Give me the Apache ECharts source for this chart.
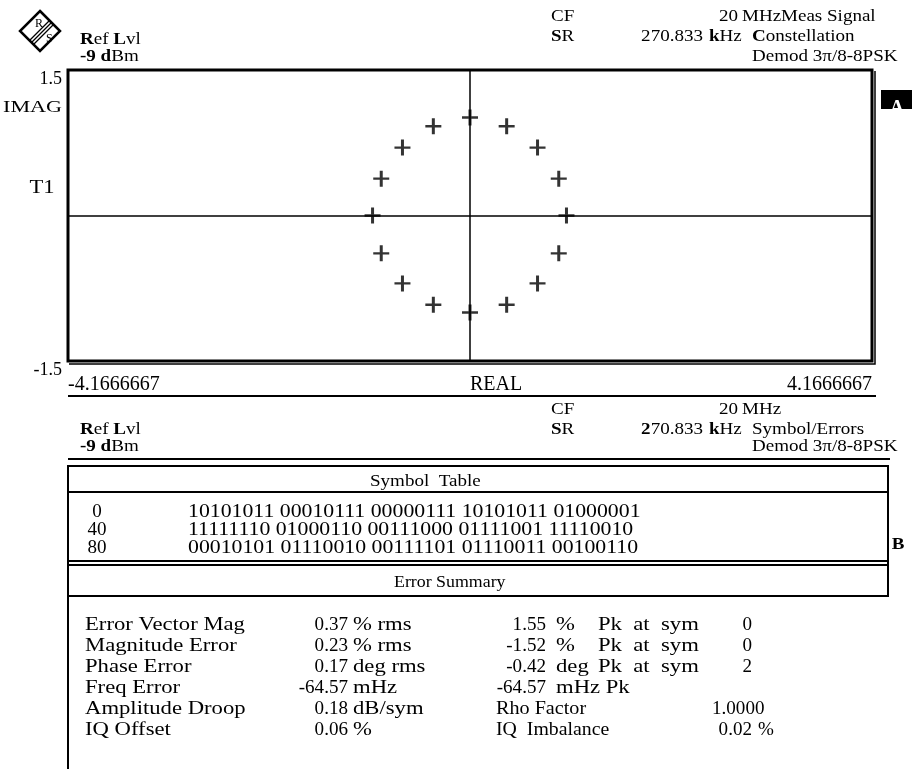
<!DOCTYPE html>
<html>
<head>
<meta charset="utf-8">
<title>Constellation 3pi/8-8PSK</title>
<script src="https://cdn.jsdelivr.net/npm/echarts@6.0.0/dist/echarts.min.js"></script>
<style>
html, body {margin: 0; padding: 0; background: #fff;}
#main {width: 912px; height: 769px;}
</style>
</head>
<body>
<div id="main"></div>
<script>
// constellation points (REAL / IMAG)
var realVals = [0.00, 0.38, 0.70, 0.92, 1.00, 0.92, 0.70, 0.38, 0.00, -0.38, -0.70, -0.92, -1.01, -0.92, -0.70, -0.38];
var imagVals = [1.01, 0.92, 0.70, 0.38, 0.00, -0.39, -0.70, -0.92, -1.00, -0.92, -0.70, -0.39, 0.00, 0.38, 0.70, 0.92];

var xTickVals = [-4.1666667, 4.1666667];
var xTickLabels = ['-4.1666667', '4.1666667'];
var yTickVals = [-1.5, 1.5];
var yTickLabels = ['-1.5', '1.5'];

// symbol table
var symbolIndex = ['0', '40', '80'];
var symbolBits = [
    '10101011 00010111 00000111 10101011 01000001',
    '11111110 01000110 00111000 01111001 11110010',
    '00010101 01110010 00111101 01110011 00100110'
];

// error summary
var errLabels = ['Error Vector Mag', 'Magnitude Error', 'Phase Error', 'Freq Error', 'Amplitude Droop', 'IQ Offset'];
var errVal1 = ['0.37', '0.23', '0.17', '-64.57', '0.18', '0.06'];
var errUnit1 = ['% rms', '% rms', 'deg rms', 'mHz', 'dB/sym', '%'];
var errVal2 = ['1.55', '-1.52', '-0.42', '-64.57'];
var errUnit2 = ['%', '%', 'deg', 'mHz Pk'];
var errPkSym = ['0', '0', '2'];

var FONT = 'Liberation Serif';
var SX = 1.12;
var rich = {
    b: {fontFamily: FONT, fontSize: 17, fontWeight: 'bold', fill: '#000'}
};

function t(x, y, s, o) {
    o = o || {};
    return {
        type: 'text', x: x, y: y, scaleX: o.sx || SX, silent: true,
        style: {
            text: s, fontFamily: FONT, fontSize: o.size || 17,
            fontWeight: o.bold ? 'bold' : 'normal', fill: o.fill || '#000',
            align: o.align || 'left', verticalAlign: 'middle', rich: rich
        }
    };
}
function ln(x1, y1, x2, y2, w) {
    return {type: 'line', silent: true, shape: {x1: x1, y1: y1, x2: x2, y2: y2}, style: {stroke: '#000', lineWidth: w || 2}};
}
// wide letters / plain digits as on the instrument screen
var W = {size: 18, sx: 1.26};
var N = {size: 18, sx: 1.06};
function opt(base, extra) {
    var o = {};
    for (var k in base) o[k] = base[k];
    for (var k2 in extra) o[k2] = extra[k2];
    return o;
}

var plus = 'path://M6.5,0H9.5V6.8H16V9.2H9.5V16H6.5V9.2H0V6.8H6.5Z';

var g = [];
// R&S logo
g.push({type: 'polygon', shape: {points: [[40, 11], [60, 31], [40, 51], [20, 31]]}, style: {fill: '#fff', stroke: '#000', lineWidth: 2.5}});
g.push(ln(49, 21, 30, 40, 1.2), ln(51, 23, 32, 42, 1.2), ln(53, 25, 34, 44, 1.2));
g.push(t(35, 24, 'R', {size: 12, sx: 1}), t(46, 39, 'S', {size: 12, sx: 1}));

// top header
g.push(t(80, 40, '{b|R}ef {b|L}vl'), t(80, 57, '{b|-9} {b|d}Bm'));
g.push(t(551, 17, 'CF'), t(738, 17, '20', {align: 'right'}), t(742, 17, 'MHz'), t(781, 17, 'Meas Signal'));
g.push(t(551, 37, '{b|S}R'), t(703, 37, '270.833', {align: 'right'}), t(709, 37, '{b|k}Hz'), t(752, 37, '{b|C}onstellation'));
g.push(t(752, 57, 'Demod 3\u03c0/8-8PSK'));
g.push(t(62, 108, 'IMAG', {align: 'right', sx: 1.3}), t(42, 188, 'T1', {align: 'center', sx: 1.25, size: 18}));

// double frame edge and the "A" marker
g.push({type: 'polyline', silent: true, shape: {points: [[875, 71], [875, 364], [69, 364]]}, style: {stroke: '#000', lineWidth: 1.5, fill: null}});
g.push({type: 'rect', shape: {x: 881, y: 90, width: 31, height: 19}, style: {fill: '#000'}});
g.push(t(897, 109, 'A', {bold: true, fill: '#fff', size: 20, sx: 1, align: 'center'}));
g.push(ln(68, 396, 876, 396));

// second header
g.push(t(551, 410, 'CF'), t(738, 410, '20', {align: 'right'}), t(742, 410, 'MHz'));
g.push(t(80, 430, '{b|R}ef {b|L}vl'), t(551, 430, '{b|S}R'), t(703, 430, '{b|2}70.833', {align: 'right'}), t(709, 430, '{b|k}Hz'), t(752, 430, 'Symbol/Errors'));
g.push(t(80, 447, '{b|-9} {b|d}Bm'), t(752, 447, 'Demod 3\u03c0/8-8PSK'));
g.push(ln(68, 459, 890, 459));

// table box
g.push({type: 'rect', silent: true, shape: {x: 68, y: 466, width: 820, height: 130}, style: {fill: null, stroke: '#000', lineWidth: 2}});
g.push(ln(68, 492, 888, 492), ln(68, 561, 888, 561), ln(68, 565, 888, 565), ln(68, 596, 68, 769));
g.push(t(370, 482, 'Symbol  Table'));
for (var i = 0; i < symbolIndex.length; i++) {
    g.push(t(97, 512 + i * 18, symbolIndex[i], opt(N, {align: 'center'})));
    g.push(t(188, 512 + i * 18, symbolBits[i], {size: 18, sx: 1.21}));
}
g.push(t(898, 545, 'B', {bold: true, align: 'center'}));
g.push(t(394, 583, 'Error Summary', {sx: 1.05}));
for (var j = 0; j < errLabels.length; j++) {
    var y = 625 + j * 21;
    g.push(t(85, y, errLabels[j], W), t(348, y, errVal1[j], opt(N, {align: 'right'})), t(353, y, errUnit1[j], W));
    if (j < errVal2.length) {
        g.push(t(546, y, errVal2[j], opt(N, {align: 'right'})), t(556, y, errUnit2[j], W));
    }
    if (j < errPkSym.length) {
        g.push(t(598, y, 'Pk  at  sym', W), t(752, y, errPkSym[j], opt(N, {align: 'right'})));
    }
}
g.push(t(496, 709, 'Rho Factor', {size: 18, sx: 1.12}), t(712, 709, '1.0000', N));
g.push(t(496, 730, 'IQ  Imbalance', {size: 18, sx: 1.1}), t(752, 730, '0.02', opt(N, {align: 'right'})), t(758, 730, '%', N));

var dom = document.getElementById('main');
var myChart = echarts.init(dom, null, {renderer: 'canvas'});
var option = {
    animation: false,
    backgroundColor: '#fff',
    grid: {left: 68, right: 40, top: 70, bottom: 408, show: true, borderColor: '#000', borderWidth: 3},
    xAxis: {
        type: 'value', min: xTickVals[0], max: xTickVals[1],
        axisLine: {show: false, onZero: false}, axisTick: {show: false}, splitLine: {show: false},
        axisLabel: {
            customValues: xTickVals, margin: 14, fontFamily: FONT, fontSize: 20, color: '#000',
            alignMinLabel: 'left', alignMaxLabel: 'right',
            formatter: function (v) {
                for (var k = 0; k < xTickVals.length; k++) {
                    if (Math.abs(v - xTickVals[k]) < 1e-6) return xTickLabels[k];
                }
                return '';
            }
        },
        name: 'REAL', nameLocation: 'middle', nameGap: 14, nameMoveOverlap: false,
        nameTextStyle: {fontFamily: FONT, fontSize: 20, color: '#000', align: 'left', verticalAlign: 'top'}
    },
    yAxis: {
        type: 'value', min: yTickVals[0], max: yTickVals[1],
        axisLine: {show: false, onZero: false}, axisTick: {show: false}, splitLine: {show: false},
        axisLabel: {
            customValues: yTickVals, margin: 6, fontFamily: FONT, fontSize: 18, color: '#000',
            verticalAlign: 'top',
            formatter: function (v) {
                for (var k = 0; k < yTickVals.length; k++) {
                    if (Math.abs(v - yTickVals[k]) < 1e-6) return yTickLabels[k];
                }
                return '';
            }
        }
    },
    series: [{
        type: 'scatter',
        data: realVals.map(function (r, i) { return [r, imagVals[i]]; }),
        symbol: plus,
        symbolSize: 16,
        itemStyle: {color: '#000'},
        markLine: {
            silent: true, symbol: 'none', label: {show: false},
            lineStyle: {color: '#000', width: 1.5, type: 'solid'},
            data: [{xAxis: 0}, {yAxis: 0}]
        }
    }],
    graphic: g
};
if (option && typeof option === "object") {
    myChart.setOption(option, true);
}
</script>
</body>
</html>
